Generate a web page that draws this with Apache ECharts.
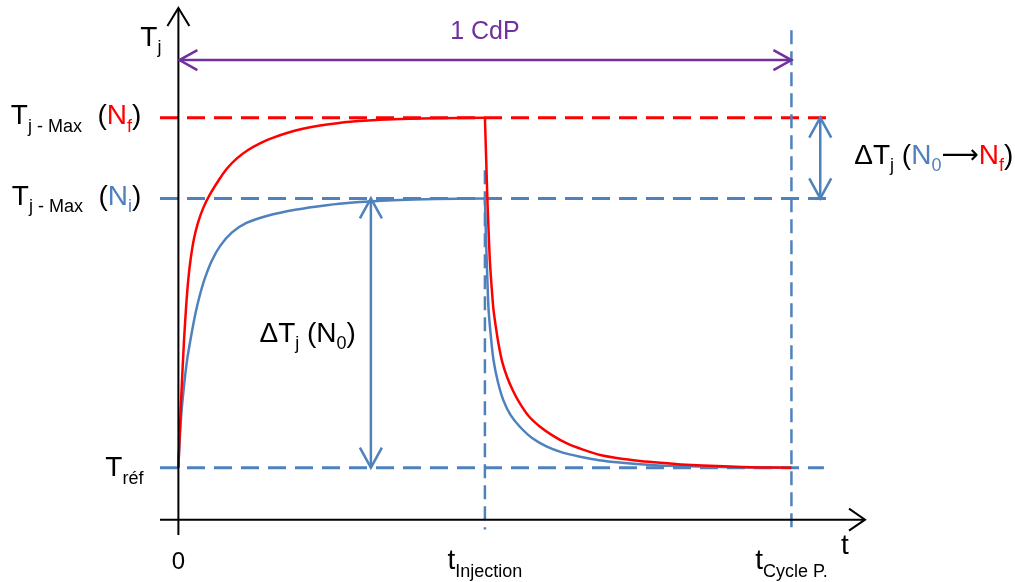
<!DOCTYPE html>
<html>
<head>
<meta charset="utf-8">
<style>
  html, body { margin: 0; padding: 0; background: #ffffff; }
  #chart { width: 1015px; height: 582px; }
</style>
<script src="https://cdn.jsdelivr.net/npm/echarts@6/dist/echarts.min.js"></script>
</head>
<body>
<div id="chart"></div>
<script>
// ---- Reference levels (arbitrary units: t in % of the cycle, Tj above Tréf) ----
const T_REF = 0;          // Tréf
const T_MAX_NI = 100;     // Tj-Max (Ni)
const T_MAX_NF = 130;     // Tj-Max (Nf)
const T_START = 0;        // t = 0
const T_INJ = 50;         // tInjection
const T_CYCLE = 100;      // tCycle P.
const DT_ARROW_T = 31.4;  // where the ΔTj(N0) arrow is drawn
const DT2_ARROW_T = 104.7;// where the ΔTj(N0→Nf) arrow is drawn
const CDP_LEVEL = 151.4;  // height of the "1 CdP" arrow

// ---- Curves ----
const redT = [0, 0.1, 0.26, 0.5, 0.91, 1.25, 1.62, 2.0, 2.54, 3.2, 4.06, 5.15, 6.79, 8, 9.5, 11.3, 13.3, 15.5, 17.7, 20.3, 23.1, 28, 35, 42, 50,
              50.2, 50.4, 50.6, 50.8, 51.1, 51.4, 51.8, 52.2, 52.8, 53.6, 54.6, 55.7, 57.2, 59, 61, 63.3, 66, 68.8, 72, 75.3, 78.6, 82, 88.9, 95, 100];
const redTj = [0, 6, 15, 28, 47, 59.5, 70, 77.5, 85, 91, 96.5, 101.5, 107.5, 111.3, 114.8, 117.9, 120.5, 122.6, 124.3, 125.9, 127.1, 128.5, 129.4, 129.8, 130,
               115, 100, 88, 77.2, 67, 58.6, 52, 46.2, 39.5, 33.8, 28.5, 23.9, 19, 15.2, 12, 9.1, 6.7, 4.7, 3.4, 2.5, 1.8, 1.2, 0.5, 0.1, 0];
const blueT = [0, 0.2, 0.53, 1.08, 1.45, 1.89, 2.35, 2.87, 3.55, 4.34, 5.43, 6.79, 8.7, 11.1, 14.4, 19.3, 24.2, 28, 35, 42, 50,
               50.1, 50.2, 50.4, 50.6, 51, 51.4, 52.1, 53, 54.2, 55.7, 57.7, 60.1, 62.7, 65.5, 68.6, 72, 76, 80, 90, 100];
const blueTj = [0, 10, 21.4, 33.8, 40.5, 46.5, 52.3, 58.2, 64.5, 70.5, 76.8, 82.3, 87.3, 90.9, 93.5, 95.9, 97.5, 98.4, 99.3, 99.8, 100,
                91.5, 83.4, 70, 58.6, 48, 40, 32, 25.1, 19.5, 15.2, 11, 7.8, 5.6, 4.1, 2.8, 1.9, 1.2, 0.7, 0.2, 0];

// ---- Axis extents ----
const X_MIN = -3, X_MAX = 112;
const Y_MIN = -25, Y_MAX = 170;
const X_AXIS_Y = -19.3;
const DASH_END = 106.3;

const RED = '#ff0000';
const BLUE = '#4f81bd';
const PURPLE = '#7030a0';
const FONT = "'Liberation Sans', Arial, sans-serif";

const zip = (a, b) => a.map((v, i) => [v, b[i]]);
// split a curve into the heating part (t <= tInjection) and the cooling part (t >= tInjection)
const heating = (t, v) => zip(t, v).filter(p => p[0] <= T_INJ);
const cooling = (t, v) => zip(t, v).filter(p => p[0] >= T_INJ);

const chart = echarts.init(document.getElementById('chart'), null, { renderer: 'canvas' });

function sub(size, color, pad) {
  return { fontSize: size, fontFamily: FONT, fill: color, color: color, padding: [pad, 0, 0, 0] };
}
function main(size, color) {
  return { fontSize: size, fontFamily: FONT, fill: color, color: color };
}

function renderAnnotations(params, api) {
  const P = (x, y) => api.coord([x, y]);
  const ch = [];
  const line = (a, b, stroke, lw, dash) => ch.push({
    type: 'line', silent: true,
    shape: { x1: a[0], y1: a[1], x2: b[0], y2: b[1] },
    style: { stroke: stroke, lineWidth: lw, lineDash: dash || null }
  });
  const head = (tip, dx, dy, stroke, lw, len, half) => {
    const px = -dy, py = dx;
    ch.push({
      type: 'polyline', silent: true,
      shape: { points: [
        [tip[0] - dx * len + px * half, tip[1] - dy * len + py * half],
        [tip[0], tip[1]],
        [tip[0] - dx * len - px * half, tip[1] - dy * len - py * half]
      ] },
      style: { stroke: stroke, lineWidth: lw, fill: 'none' }
    });
  };
  const text = (pt, dx, dy, str, rich, align) => ch.push({
    type: 'text', silent: true,
    style: { x: pt[0] + dx, y: pt[1] + dy, text: str, rich: rich, align: align, verticalAlign: 'middle',
             fontFamily: FONT, fontSize: 26, fill: '#000' }
  });

  // axes
  const yBottom = P(T_START, Y_MIN), yTop = P(T_START, Y_MAX);
  line(yBottom, [yTop[0], yTop[1] - 2], '#000', 2);
  head([yTop[0], yTop[1] - 2], 0, -1, '#000', 2, 18, 11);
  const xLeft = P(X_MIN, X_AXIS_Y), xRight = P(X_MAX, X_AXIS_Y);
  line(xLeft, xRight, '#000', 2);
  head(xRight, 1, 0, '#000', 2, 16, 11);

  // 1 CdP arrow
  const c0 = P(T_START, CDP_LEVEL), c1 = P(T_CYCLE, CDP_LEVEL);
  line([c0[0] + 1, c0[1]], c1, PURPLE, 2.5);
  head([c0[0] + 1, c0[1]], -1, 0, PURPLE, 2.5, 18, 10);
  head(c1, 1, 0, PURPLE, 2.5, 18, 10);

  // ΔTj (N0) arrow
  const a0 = P(DT_ARROW_T, T_MAX_NI), a1 = P(DT_ARROW_T, T_REF);
  line(a0, a1, BLUE, 2.5);
  head(a0, 0, -1, BLUE, 2.5, 20, 11);
  head(a1, 0, 1, BLUE, 2.5, 20, 11);

  // ΔTj (N0→Nf) arrow
  const b0 = P(DT2_ARROW_T, T_MAX_NF), b1 = P(DT2_ARROW_T, T_MAX_NI);
  line(b0, b1, BLUE, 2.5);
  head(b0, 0, -1, BLUE, 2.5, 20, 11);
  head(b1, 0, 1, BLUE, 2.5, 20, 11);

  const BIG = 28, SMALL = 18, PAD = 20;
  const R = {
    b: main(BIG, '#000'), s: sub(SMALL, '#000', PAD),
    r: main(BIG, RED), rs: sub(SMALL, RED, PAD),
    u: main(BIG, BLUE), us: sub(SMALL, BLUE, PAD),
    ar: { fontSize: 26, fontFamily: "'DejaVu Sans', sans-serif", fill: '#000', color: '#000' },
    p: main(25, PURPLE),
    n: main(24, '#000')
  };

  // y-axis title
  text(P(T_START, Y_MAX), -17, 28, '{b|T}{s|j}', R, 'right');
  // level labels
  text(P(T_START, T_MAX_NF), -37, -1, '{b|T}{s|j - Max}{b|  (}{r|N}{rs|f}{b|)}', R, 'right');
  text(P(T_START, T_MAX_NI), -37, -1, '{b|T}{s|j - Max}{b|  (}{u|N}{us|i}{b|)}', R, 'right');
  text(P(T_START, T_REF), -35, 1, '{b|T}{s|réf}', R, 'right');
  // x labels
  const xl = P(T_START, X_AXIS_Y);
  text(xl, 0, 43, '{n|0}', R, 'center');
  text(P(T_INJ, X_AXIS_Y), 0, 42, '{b|t}{s|Injection}', R, 'center');
  text(P(T_CYCLE, X_AXIS_Y), 0, 42, '{b|t}{s|Cycle P.}', R, 'center');
  text(xRight, -20, 27, '{b|t}', R, 'center');
  // 1 CdP
  text(P((T_START + T_CYCLE) / 2, CDP_LEVEL), 0, -28, '{p|1 CdP}', R, 'center');
  // ΔTj labels
  const mid0 = P(DT_ARROW_T, (T_MAX_NI + T_REF) / 2);
  text(mid0, -15, 1, '{b|ΔT}{s|j}{b| (N}{s|0}{b|)}', R, 'right');
  const mid1 = P(DT2_ARROW_T, (T_MAX_NF + T_MAX_NI) / 2);
  text(mid1, 34, -2, '{b|ΔT}{s|j}{b| (}{u|N}{us|0}{ar|⟶}{r|N}{rs|f}{b|)}', R, 'left');

  return { type: 'group', children: ch };
}

const dashH = [18, 9];
const dashV = [14, 7];

function curve(name, data, color, z) {
  return { type: 'line', name: name, symbol: 'none', silent: true, z: z,
           smooth: 0.25, data: data,
           lineStyle: { color: color, width: 2.5, join: 'round' } };
}

const option = {
  animation: false,
  backgroundColor: '#ffffff',
  grid: { left: 160, right: 150, top: 10, bottom: 47 },
  xAxis: { type: 'value', min: X_MIN, max: X_MAX, show: false },
  yAxis: { type: 'value', min: Y_MIN, max: Y_MAX, show: false },
  series: [
    { type: 'line', symbol: 'none', silent: true, z: 1,
      data: [[X_MIN, T_MAX_NF], [DASH_END, T_MAX_NF]],
      lineStyle: { color: RED, width: 3, type: dashH } },
    { type: 'line', symbol: 'none', silent: true, z: 1,
      data: [[X_MIN, T_MAX_NI], [DASH_END, T_MAX_NI]],
      lineStyle: { color: BLUE, width: 3, type: dashH } },
    { type: 'line', symbol: 'none', silent: true, z: 1,
      data: [[X_MIN, T_REF], [DASH_END - 1, T_REF]],
      lineStyle: { color: BLUE, width: 3, type: dashH } },
    { type: 'line', symbol: 'none', silent: true, z: 1,
      data: [[T_INJ, 110.5], [T_INJ, -23]],
      lineStyle: { color: BLUE, width: 2.5, type: dashV } },
    { type: 'line', symbol: 'none', silent: true, z: 1,
      data: [[T_CYCLE, 162.5], [T_CYCLE, -23]],
      lineStyle: { color: BLUE, width: 2.5, type: dashV } },
    curve('Ni heating', heating(blueT, blueTj), BLUE, 2),
    curve('Ni cooling', cooling(blueT, blueTj), BLUE, 2),
    curve('Nf heating', heating(redT, redTj), RED, 3),
    curve('Nf cooling', cooling(redT, redTj), RED, 3),
    { type: 'custom', silent: true, z: 4, clip: false,
      renderItem: renderAnnotations,
      data: [[0, 0]] }
  ]
};
chart.setOption(option);
</script>
</body>
</html>
